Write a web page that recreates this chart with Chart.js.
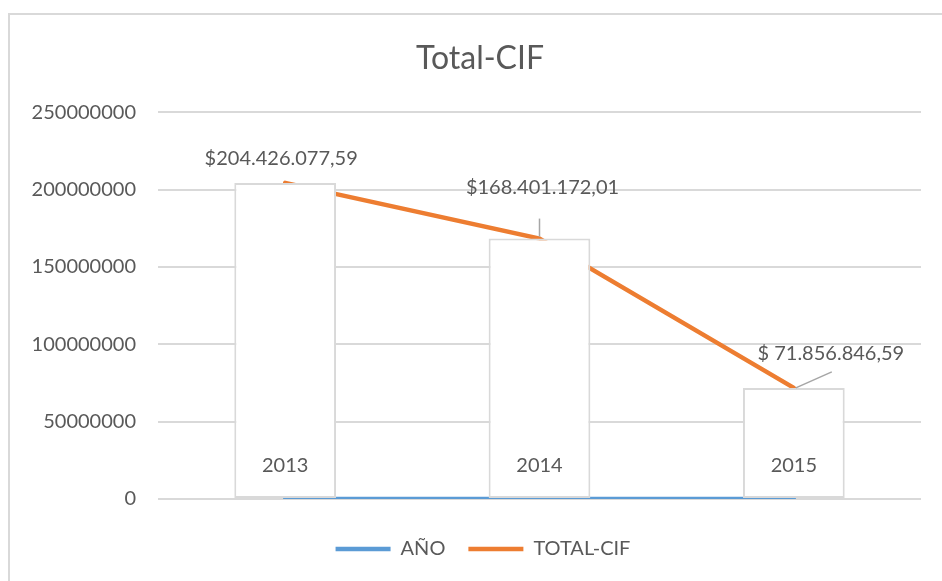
<!DOCTYPE html>
<html>
<head>
<meta charset="utf-8">
<script src="https://cdn.jsdelivr.net/npm/chart.js@4"></script>
<style>
  html, body { margin: 0; padding: 0; background: #fff; }
  #wrap { position: relative; width: 942px; height: 581px; overflow: hidden; }
  #frame { position: absolute; left: 8px; top: 13px; width: 960px; height: 600px;
           border-left: 2px solid #d9d9d9; border-top: 2px solid #d9d9d9; }
  canvas { position: absolute; left: 0; top: 0; }
</style>
</head>
<body>
<div id="wrap">
  <div id="frame"></div>
  <canvas id="myChart" width="942" height="581"></canvas>
</div>
<script>
// data
var years = ["2013", "2014", "2015"];
var anoValues = [2013, 2014, 2015];
var totalCif = [204426077.59, 168401172.01, 71856846.59];
var yTicks = [0, 50000000, 100000000, 150000000, 200000000, 250000000];

var textColor = "#595959";
var fontName = "Lato";

// where each value label sits relative to its point (style only)
var labelOffsets = [
  { dx: -4, dy: -24 },
  { dx: 3, dy: -51, leader: [0, -2, 0, -20] },
  { dx: 37, dy: -34, leader: [2, 0, 38, -16] }
];

function money(v) {
  var parts = v.toFixed(2).split(".");
  var whole = parts[0].replace(/\B(?=(\d{3})+(?!\d))/g, ".");
  return "$" + (whole + "," + parts[1]).padStart(14, " ");
}

var labelPlugin = {
  id: "valueLabels",
  afterLayout: function (chart) {
    // title and legend are centred on the frame, not on the canvas
    chart.titleBlock.left = 39;
    chart.legend.left = 45;
  },
  afterDatasetsDraw: function (chart) {
    var ctx = chart.ctx;
    ctx.save();
    ctx.font = "20px " + fontName;
    ctx.fillStyle = textColor;
    ctx.textAlign = "center";
    ctx.textBaseline = "middle";

    // years inside the boxes
    var barMeta = chart.getDatasetMeta(0);
    barMeta.data.forEach(function (bar, i) {
      ctx.fillText(years[i], bar.x, bar.base - 32);
    });

    // money labels over the orange line
    var lineMeta = chart.getDatasetMeta(2);
    lineMeta.data.forEach(function (pt, i) {
      var o = labelOffsets[i];
      if (o.leader) {
        ctx.strokeStyle = "#a6a6a6";
        ctx.lineWidth = 1.5;
        ctx.beginPath();
        ctx.moveTo(pt.x + o.leader[0], pt.y + o.leader[1]);
        ctx.lineTo(pt.x + o.leader[2], pt.y + o.leader[3]);
        ctx.stroke();
      }
      ctx.fillText(money(totalCif[i]), pt.x + o.dx, pt.y + o.dy);
    });
    ctx.restore();
  }
};

new Chart("myChart", {
  type: "line",
  data: {
    labels: years,
    datasets: [
      {
        type: "bar",
        label: "boxes",
        data: totalCif,
        backgroundColor: "#ffffff",
        borderColor: "#d9d9d9",
        borderWidth: 2,
        borderSkipped: false,
        barPercentage: 0.4,
        categoryPercentage: 1,
        order: 0
      },
      {
        label: "AÑO",
        data: anoValues,
        borderColor: "#5b9bd5",
        backgroundColor: "#5b9bd5",
        borderWidth: 4.5,
        borderCapStyle: "round",
        pointRadius: 0,
        order: 1
      },
      {
        label: "TOTAL-CIF",
        data: totalCif,
        borderColor: "#ed7d31",
        backgroundColor: "#ed7d31",
        borderWidth: 4.5,
        borderCapStyle: "round",
        pointRadius: 0,
        order: 2
      }
    ]
  },
  options: {
    responsive: false,
    animation: false,
    layout: { padding: { left: 0, right: 21, top: 14, bottom: 12 } },
    plugins: {
      tooltip: { enabled: false },
      title: {
        display: true,
        text: "Total-CIF",
        color: textColor,
        font: { family: fontName, size: 32, weight: "normal" },
        padding: { top: 25, bottom: 35 }
      },
      legend: {
        position: "bottom",
        title: { display: true, text: " ", font: { size: 10 }, padding: { top: 0, bottom: 5 } },
        labels: {
          filter: function (item) { return item.text !== "boxes"; },
          usePointStyle: true,
          pointStyle: "line",
          pointStyleWidth: 55,
          padding: 23,
          color: textColor,
          font: { family: fontName, size: 20 }
        }
      }
    },
    scales: {
      x: {
        display: false,
        offset: true
      },
      y: {
        min: 0,
        max: 250000000,
        afterBuildTicks: function (axis) {
          axis.ticks = yTicks.map(function (v) { return { value: v }; });
        },
        afterFit: function (axis) { axis.width = 158; },
        border: { display: false },
        grid: { color: "#d9d9d9", lineWidth: 2, drawTicks: false },
        ticks: {
          padding: 22,
          color: textColor,
          font: { family: fontName, size: 20 },
          callback: function (v) { return String(v); }
        }
      }
    }
  },
  plugins: [labelPlugin]
});
</script>
</body>
</html>
